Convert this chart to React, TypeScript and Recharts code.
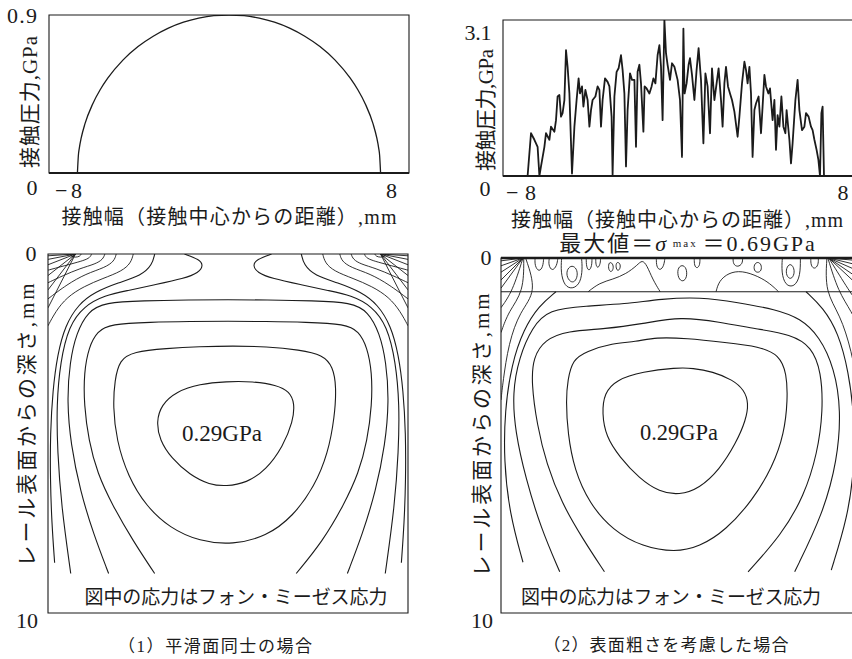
import React from 'react';
import { ComposedChart, Line, XAxis, YAxis, ReferenceArea, ReferenceLine } from 'recharts';

type XY = [number, number];
type Pt = { x: number; d: number };
const pts = (a: XY[]): Pt[] => a.map(([x, d]) => ({ x, d }));

// ---------- (top-left) Hertz contact pressure, GPa vs distance from contact centre, mm
const hertzX = [-8, -7.95, -7.9, -7.8, -7.6, -7.2, -6.8, -6.4, -5.6, -4.8, -4.0, -3.2, -2.4, -1.6, -0.8, 0, 0.8, 1.6, 2.4, 3.2, 4.0, 4.8, 5.6, 6.4, 6.8, 7.2, 7.6, 7.8, 7.9, 7.95, 8];
const hertzP = [0, 0.10, 0.142, 0.20, 0.281, 0.392, 0.474, 0.54, 0.643, 0.72, 0.779, 0.825, 0.859, 0.882, 0.896, 0.90, 0.896, 0.882, 0.859, 0.825, 0.779, 0.72, 0.643, 0.54, 0.474, 0.392, 0.281, 0.20, 0.142, 0.10, 0];
const hertz = hertzX.map((x, i) => ({ x, p: hertzP[i] }));
const smoothPressureTicksY = [0, 0.9];
const pressureTicksX = [-8, 8];

// ---------- (top-right) rough-surface contact pressure, GPa
const roughPressure: XY[] = [
  [-7.8, 0], [-7.77, 0], [-7.6, 0.85], [-7.43, 0.72], [-7.27, 0.58], [-7.18, 0], [-7.1, 0.19], [-6.93, 0.58], [-6.85, 0.85],
  [-6.68, 0.72], [-6.6, 0.98], [-6.43, 0.88], [-6.35, 1.11], [-6.27, 1.58], [-6.18, 1.61], [-6.1, 1.18], [-6.02, 1.25],
  [-5.93, 1.51], [-5.85, 2.5], [-5.77, 2.17], [-5.68, 1.64], [-5.55, 0.05], [-5.43, 0.98], [-5.32, 1.51], [-5.22, 1.94],
  [-5.15, 1.64], [-5.05, 1.78], [-4.98, 1.38], [-4.88, 1.71], [-4.77, 1.51], [-4.68, 0.98], [-4.6, 1.31], [-4.52, 1.51],
  [-4.38, 1.58], [-4.27, 1.78], [-4.18, 1.71], [-4.1, 0.98], [-4.02, 1.51], [-3.9, 1.94], [-3.77, 1.87], [-3.68, 1.78],
  [-3.57, 1.18], [-3.52, 0.02], [-3.43, 1.58], [-3.32, 2.07], [-3.22, 2.14], [-3.1, 2.4], [-3.02, 2.11], [-2.93, 1.64],
  [-2.85, 0.19], [-2.77, 1.31], [-2.65, 2.04], [-2.55, 1.91], [-2.43, 1.91], [-2.35, 0.58], [-2.27, 2.07], [-2.18, 2.21],
  [-2.1, 1.84], [-1.98, 0.88], [-1.92, 1.78], [-1.82, 1.74], [-1.68, 1.64], [-1.57, 1.78], [-1.48, 1.94], [-1.38, 1.84],
  [-1.27, 2.4], [-1.18, 2.6], [-1.1, 2.17], [-1.02, 1.11], [-0.93, 3.1], [-0.85, 2.44], [-0.77, 2.21], [-0.65, 1.91],
  [-0.55, 2.24], [-0.43, 2.17], [-0.27, 1.91], [-0.15, 1.51], [-0.05, 0.38], [0.02, 2.93], [0.08, 1.64], [0.18, 1.84],
  [0.28, 2.21], [0.35, 2.34], [0.45, 2.01], [0.57, 1.51], [0.68, 2.11], [0.78, 2.54], [0.9, 1.91], [1.02, 0.65],
  [1.12, 2.04], [1.23, 1.78], [1.35, 0.85], [1.45, 2.14], [1.57, 1.51], [1.68, 1.84], [1.78, 2.14], [1.9, 1.51],
  [1.98, 0.98], [2.07, 1.84], [2.15, 2.17], [2.25, 1.78], [2.35, 1.64], [2.45, 1.51], [2.57, 1.28], [2.73, 0.78],
  [2.82, 1.18], [2.95, 1.84], [3.07, 2.27], [3.15, 2.11], [3.23, 1.84], [3.32, 2.17], [3.4, 1.64], [3.48, 0.38],
  [3.57, 1.31], [3.65, 1.44], [3.78, 1.58], [3.9, 0.85], [3.98, 1.38], [4.07, 2.01], [4.15, 1.78], [4.27, 1.64],
  [4.35, 1.74], [4.48, 1.11], [4.57, 1.51], [4.65, 0.52], [4.73, 1.21], [4.82, 0.98], [4.92, 1.58], [5.02, 0.98],
  [5.12, 0.85], [5.18, 1.31], [5.32, 0.72], [5.4, 0.25], [5.48, 0.65], [5.62, 1.51], [5.73, 1.91], [5.82, 1.31],
  [5.95, 0.91], [6.07, 0.98], [6.15, 1.25], [6.28, 1.18], [6.4, 0.98], [6.48, 0.91], [6.57, 0.72], [6.68, 0.52],
  [6.77, 0.32], [6.85, 0], [6.92, 1.25], [6.98, 1.38], [7.05, 0],
];
const roughPressureData = roughPressure.map(([x, p]) => ({ x, p }));
const roughPressureTicksY = [0, 3.1];
const depthTicks = [0, 10];

// ---------- (bottom-left) von Mises contours, smooth surfaces (x mm, depth mm)
const smoothC1: XY[] = [[-0.09, 3.55], [-1.5, 3.62], [-2.73, 3.83], [-3.52, 4.2], [-3.78, 4.67], [-3.61, 5.18], [-2.99, 5.69], [-2.02, 6.15], [-0.97, 6.43], [-0.09, 6.47], [0.97, 6.38], [2.02, 6.01], [2.9, 5.36], [3.43, 4.67], [3.52, 4.16], [3.25, 3.83], [2.55, 3.65], [1.32, 3.55]];
const smoothC2: XY[] = [[-5.98, 3.51], [-5.72, 2.95], [-5.01, 2.72], [-3.25, 2.63], [-1.5, 2.58], [0.26, 2.56], [2.02, 2.58], [3.78, 2.67], [5.01, 2.81], [5.54, 3.14], [5.72, 3.69], [5.63, 4.53], [5.28, 5.55], [4.57, 6.47], [3.43, 7.31], [2.02, 7.87], [0.26, 8.1], [-1.5, 8.01], [-3.08, 7.63], [-4.31, 7.03], [-5.28, 6.2], [-5.89, 5.18], [-6.07, 4.25]];
const smoothC3: XY[] = [[-3.87, 8.9], [-5.0, 8.0], [-6.1, 7.0], [-6.9, 6.1], [-7.35, 5.2], [-7.6, 4.2], [-7.6, 3.3], [-7.35, 2.6], [-6.9, 2.15], [-6.2, 1.95], [-4.1, 1.9], [-2, 1.88], [0, 1.87], [2, 1.88], [4.1, 1.9], [6.2, 1.95], [6.9, 2.15], [7.35, 2.6], [7.6, 3.3], [7.6, 4.2], [7.35, 5.2], [6.9, 6.1], [6.1, 7.0], [5.0, 8.0], [3.6, 8.9]];
const smoothC4: XY[] = [[-6.3, 8.9], [-7.1, 7.8], [-7.8, 6.6], [-8.3, 5.3], [-8.5, 4.1], [-8.35, 3.0], [-8.0, 2.2], [-7.4, 1.6], [-6.5, 1.35], [-4.5, 1.3], [-2, 1.28], [0, 1.27], [2, 1.28], [4.5, 1.3], [6.5, 1.35], [7.4, 1.6], [8.0, 2.2], [8.35, 3.0], [8.5, 4.1], [8.3, 5.3], [7.8, 6.6], [7.1, 7.8], [6.3, 8.9]];
const smoothC5L: XY[] = [[-2.3, 0], [-1.5, 0.15], [-1.3, 0.32], [-1.55, 0.52], [-2.3, 0.68], [-3.9, 0.86], [-5.3, 1.02], [-6.5, 1.15], [-7.6, 1.45], [-8.4, 2.0], [-8.85, 3.0], [-9.05, 4.2], [-9.0, 5.5], [-8.8, 7.0], [-8.3, 8.9]];
const smoothC5R: XY[] = [[2.3, 0], [1.5, 0.15], [1.3, 0.32], [1.55, 0.52], [2.3, 0.68], [3.9, 0.86], [5.3, 1.02], [6.5, 1.15], [7.6, 1.45], [8.4, 2.0], [8.85, 3.0], [9.05, 4.2], [9.0, 5.5], [8.8, 7.0], [8.3, 8.9]];
const smoothC6L: XY[] = [[-3.87, 0], [-4.0, 0.3], [-4.57, 0.6], [-5.8, 0.8], [-7.0, 1.05], [-7.9, 1.4], [-8.6, 2.0], [-9.0, 2.8], [-9.25, 3.8], [-9.38, 5.0], [-9.38, 6.3], [-9.3, 7.5], [-9.15, 8.6]];
const smoothC6R: XY[] = [[3.87, 0], [4.0, 0.3], [4.57, 0.6], [5.8, 0.8], [7.0, 1.05], [7.9, 1.4], [8.6, 2.0], [9.0, 2.8], [9.25, 3.8], [9.38, 5.0], [9.38, 6.3], [9.3, 7.5], [9.15, 8.6]];
const smoothArcsL: XY[][] = [
  [[-5.0, 0], [-5.12, 0.25], [-5.6, 0.48], [-6.6, 0.68], [-7.6, 0.9], [-8.5, 1.2], [-9.1, 1.6], [-9.5, 2.0]],
  [[-5.9, 0], [-6.0, 0.2], [-6.5, 0.38], [-7.5, 0.55], [-8.5, 0.85], [-9.5, 1.25]],
  [[-6.5, 0], [-6.6, 0.15], [-7.0, 0.28], [-7.8, 0.4], [-8.7, 0.6], [-9.5, 0.8]],
  [[-7.2, 0], [-7.28, 0.1], [-7.6, 0.18], [-8.3, 0.28], [-9.0, 0.38], [-9.5, 0.45]],
  [[-7.75, 0], [-7.8, 0.06], [-8.05, 0.1], [-8.3, 0.06], [-8.35, 0]],
];
const smoothArcsR: XY[][] = [
  [[5.0, 0], [5.12, 0.25], [5.6, 0.48], [6.6, 0.68], [7.6, 0.9], [8.5, 1.2], [9.1, 1.6], [9.5, 2.0]],
  [[5.9, 0], [6.0, 0.2], [6.5, 0.38], [7.5, 0.55], [8.5, 0.85], [9.5, 1.25]],
  [[6.5, 0], [6.6, 0.15], [7.0, 0.28], [7.8, 0.4], [8.7, 0.6], [9.5, 0.8]],
  [[7.2, 0], [7.28, 0.1], [7.6, 0.18], [8.3, 0.28], [9.0, 0.38], [9.5, 0.45]],
  [[7.75, 0], [7.8, 0.06], [8.05, 0.1], [8.3, 0.06], [8.35, 0]],
];
const smoothEdgeL: XY = [-8.05, 0];
const smoothEdgeR: XY = [8.05, 0];
const smoothSpokeDepths = [0.05, 0.15, 0.3, 0.6, 1.0, 1.5];

// ---------- (bottom-right) von Mises contours, rough surfaces
const roughC1: XY[] = [[-0.26, 3.09], [-2.02, 3.2], [-3.43, 3.43], [-4.05, 3.81], [-4.17, 4.37], [-3.96, 5.03], [-3.25, 5.6], [-2.2, 6.21], [-1.14, 6.59], [-0.09, 6.68], [0.97, 6.49], [2.02, 5.97], [2.9, 5.22], [3.43, 4.56], [3.57, 4.09], [3.34, 3.72], [2.73, 3.43], [1.67, 3.2], [0.62, 3.1]];
const roughC2: XY[] = [[-5.98, 3.43], [-5.72, 2.87], [-5.01, 2.63], [-3.61, 2.4], [-2.4, 2.36], [-1.32, 2.23], [0.26, 2.26], [2.37, 2.38], [4.13, 2.49], [5.19, 2.73], [5.58, 3.25], [5.63, 4.0], [5.45, 4.94], [4.84, 5.88], [3.78, 6.82], [2.37, 7.67], [0.97, 8.14], [-0.32, 8.29], [-2.02, 8.14], [-3.61, 7.67], [-4.84, 6.91], [-5.63, 5.97], [-5.98, 4.94], [-6.07, 4.0]];
const roughC3: XY[] = [[-4.04, 8.84], [-5.2, 7.9], [-6.3, 6.9], [-7.1, 5.8], [-7.6, 4.7], [-7.9, 3.5], [-7.8, 2.8], [-7.2, 2.3], [-6.0, 2.05], [-4.0, 2.0], [-2.0, 1.85], [0, 1.65], [2.0, 1.8], [4.0, 2.0], [5.8, 2.15], [6.9, 2.5], [7.4, 3.2], [7.5, 4.3], [7.2, 5.5], [6.5, 6.7], [5.3, 7.8], [3.54, 8.84]];
const roughC4: XY[] = [[-6.4, 8.84], [-7.4, 7.6], [-8.2, 6.2], [-8.75, 4.9], [-8.9, 3.8], [-8.55, 2.8], [-7.85, 1.95], [-7.0, 1.45], [-5, 1.35], [-3, 1.3], [-1, 1.15], [1, 1.1], [3, 1.25], [5, 1.45], [6.3, 1.7], [7.3, 2.2], [8.1, 3.1], [8.45, 4.3], [8.25, 5.7], [7.5, 7.2], [6.0, 8.84]];
const roughC5L: XY[] = [[-6.6, 0.95], [-7.5, 1.35], [-8.3, 2.0], [-8.95, 3.0], [-9.3, 4.3], [-9.35, 5.7], [-9.05, 7.2], [-8.34, 8.57]];
const roughC5R: XY[] = [[6.6, 0.95], [7.5, 1.4], [8.3, 2.1], [8.85, 3.2], [9.15, 4.5], [9.15, 5.9], [8.8, 7.3], [7.93, 8.79]];
const roughWalls: XY[][] = [
  [[-8.34, 0], [-8.9, 0.95], [-9.5, 1.4]],
  [[-8.3, 0], [-8.3, 0.95], [-9.1, 1.5], [-9.5, 2.1]],
  [[-8.2, 0], [-7.6, 0.95], [-8.5, 1.5], [-9.1, 2.4], [-9.4, 3.5], [-9.5, 4.0]],
  [[7.8, 0], [8.9, 0.95], [9.5, 1.4]],
  [[7.75, 0], [8.3, 0.95], [9.0, 1.5], [9.5, 2.1]],
  [[7.7, 0], [7.6, 0.95], [8.4, 1.6], [9.0, 2.6], [9.4, 3.8], [9.5, 4.5]],
];
const roughEdgeL: XY = [-8.34, 0];
const roughEdgeR: XY = [7.8, 0];
const roughSpokeDepths = [0.08, 0.22, 0.4, 0.62, 0.85];
const roughLayerOpen: XY[][] = [
  [[-7.7, 0], [-7.72, 0.22], [-7.5, 0.4], [-7.28, 0.25], [-7.25, 0]],
  [[-6.95, 0], [-7.0, 0.2], [-6.8, 0.38], [-6.55, 0.22], [-6.5, 0]],
  [[-6.3, 0], [-6.35, 0.4], [-6.15, 0.8], [-5.7, 0.88], [-5.3, 0.7], [-5.2, 0.3], [-5.25, 0]],
  [[-5.0, 0], [-5.0, 0.25], [-4.85, 0.38], [-4.7, 0.22], [-4.7, 0]],
  [[-4.5, 0], [-4.5, 0.2], [-4.38, 0.3], [-4.25, 0.15], [-4.25, 0]],
  [[-4.9, 0.95], [-4.3, 0.7], [-3.6, 0.6], [-2.9, 0.45], [-2.3, 0.2], [-2.05, 0.05], [-1.8, 0.2], [-1.5, 0.6], [-1.1, 0.95]],
  [[-1.3, 0], [-1.3, 0.25], [-1.1, 0.36], [-0.9, 0.22], [-0.85, 0]],
  [[0.7, 0], [0.7, 0.22], [0.85, 0.3], [1.0, 0.2], [1.0, 0]],
  [[1.85, 0.95], [2.0, 0.65], [2.5, 0.42], [3.2, 0.35], [4.1, 0.52], [4.7, 0.72], [5.15, 0.95]],
  [[2.75, 0], [2.75, 0.18], [3.0, 0.26], [3.25, 0.16], [3.25, 0]],
  [[5.35, 0], [5.3, 0.4], [5.5, 0.78], [6.0, 0.82], [6.3, 0.5], [6.3, 0]],
  [[6.85, 0], [6.85, 0.22], [7.05, 0.32], [7.25, 0.2], [7.25, 0]],
];
const roughLayerLoops: XY[][] = [
  [[-5.75, 0.2], [-5.5, 0.3], [-5.45, 0.5], [-5.6, 0.68], [-5.85, 0.68], [-6.05, 0.5], [-6.0, 0.3]],
  [[-3.8, 0.1], [-3.6, 0.15], [-3.55, 0.3], [-3.7, 0.42], [-3.85, 0.3]],
  [[-3.4, 0.1], [-3.2, 0.15], [-3.2, 0.3], [-3.35, 0.38], [-3.45, 0.25]],
  [[0.05, 0.18], [0.3, 0.28], [0.32, 0.55], [0.1, 0.68], [-0.15, 0.58], [-0.2, 0.3]],
  [[4.05, 0.1], [4.25, 0.18], [4.25, 0.36], [4.05, 0.42], [3.85, 0.36], [3.85, 0.18]],
  [[5.75, 0.15], [5.95, 0.25], [6.0, 0.45], [5.8, 0.62], [5.55, 0.5], [5.55, 0.28]],
];
const roughLayerDepth = 0.95;

// ---------- styling
const FONT = "'Liberation Serif', 'Times New Roman', 'DejaVu Serif', 'Noto Sans CJK JP', serif";
const INK = '#1b1b1b';

function T({ x, y, size, w, rot, children, adj = 'spacing' }: any) {
  return (
    <text x={x} y={y} fontFamily={FONT} fill={INK} textAnchor="middle" dominantBaseline="central"
      style={{ fontFamily: FONT, fontSize: size }}
      textLength={w} lengthAdjust={w ? adj : undefined} transform={rot ? `rotate(-90 ${x} ${y})` : undefined}>
      {children}
    </text>
  );
}
const numLabel = (v: number) => String(v).replace('-', '\u2212');

const contour = (key: string, a: XY[], closed = false, w = 1.1) => (
  <Line key={key} data={pts(a)} dataKey="d" type={closed ? 'basisClosed' : 'basis'} stroke={INK} strokeWidth={w}
    dot={false} activeDot={false} isAnimationActive={false} legendType="none" />
);
const straight = (key: string, a: XY[], w = 0.9) => (
  <Line key={key} data={pts(a)} dataKey="d" type="linear" stroke={INK} strokeWidth={w}
    dot={false} activeDot={false} isAnimationActive={false} legendType="none" />
);

function Overlay({ w, h, children }: any) {
  return (
    <svg width={w} height={h} style={{ position: 'absolute', left: 0, top: 0, pointerEvents: 'none', overflow: 'visible' }}>
      {children}
    </svg>
  );
}

// ---------- panels
function TopLeft() {
  return (
    <div style={{ position: 'absolute', left: 0, top: 0, width: 426, height: 235 }}>
      <ComposedChart width={426} height={235} margin={{ top: 15, left: 48, right: 17, bottom: 61 }}>
        <XAxis type="number" dataKey="x" domain={[-9.5, 9.5]} allowDataOverflow ticks={pressureTicksX} interval={0}
          height={1} axisLine={false} tickLine={false}
          tick={(p: any) => (
            <T x={p.x + (p.payload.value < 0 ? -9 : 11)} y={190} size={22} w={p.payload.value < 0 ? 27 : undefined}>{numLabel(p.payload.value)}</T>
          )} />
        <YAxis type="number" domain={[0, 0.9]} allowDataOverflow ticks={smoothPressureTicksY} interval={0} width={1}
          axisLine={false} tickLine={false}
          tick={(p: any) => (
            <T x={p.payload.value > 0 ? 22 : 32} y={p.y + (p.payload.value > 0 ? 0 : 14)} size={22} w={p.payload.value > 0 ? 30 : undefined}>{String(p.payload.value)}</T>
          )} />
        <ReferenceArea x1={-9.5} x2={9.5} y1={0} y2={0.9} fill="none" stroke={INK} strokeWidth={1.1} ifOverflow="visible" />
        <ReferenceLine y={0} stroke={INK} strokeWidth={2} ifOverflow="visible" />
        <Line data={hertz} dataKey="p" type="monotone" stroke={INK} strokeWidth={1.3} dot={false} activeDot={false} isAnimationActive={false} />
      </ComposedChart>
      <Overlay w={426} h={235}>
        <T x={30} y={102} size={21} w={132} rot>接触圧力,GPa</T>
        <T x={229} y={217} size={20} w={335}>接触幅（接触中心からの距離）,mm</T>
      </Overlay>
    </div>
  );
}

function TopRight() {
  return (
    <div style={{ position: 'absolute', left: 426, top: 0, width: 445, height: 235 }}>
      <ComposedChart width={445} height={235} margin={{ top: 20, left: 76, right: 8, bottom: 58 }}>
        <XAxis type="number" dataKey="x" domain={[-9, 9]} allowDataOverflow ticks={pressureTicksX} interval={0}
          height={1} axisLine={false} tickLine={false}
          tick={(p: any) => (
            <T x={p.x + (p.payload.value < 0 ? -2 : 0)} y={192} size={22} w={p.payload.value < 0 ? 30 : undefined}>{numLabel(p.payload.value)}</T>
          )} />
        <YAxis type="number" domain={[0, 3.1]} allowDataOverflow ticks={roughPressureTicksY} interval={0} width={1}
          axisLine={false} tickLine={false}
          tick={(p: any) => (
            <T x={p.payload.value > 0 ? 52 : 59} y={p.y + 12} size={22} w={p.payload.value > 0 ? 27 : undefined}>{String(p.payload.value)}</T>
          )} />
        <ReferenceArea x1={-9} x2={9} y1={0} y2={3.1} fill="none" stroke={INK} strokeWidth={1.1} ifOverflow="visible" />
        <ReferenceLine y={0} stroke={INK} strokeWidth={2} ifOverflow="visible" />
        <Line data={roughPressureData} dataKey="p" type="linear" stroke={INK} strokeWidth={1.8} strokeLinejoin="round" dot={false} activeDot={false} isAnimationActive={false} />
      </ComposedChart>
      <Overlay w={445} h={235}>
        <T x={60} y={110} size={21} w={122} rot>接触圧力,GPa</T>
        <T x={251} y={220} size={20} w={332}>接触幅（接触中心からの距離）,mm</T>
      </Overlay>
    </div>
  );
}

function BottomLeft() {
  const spokesL = smoothSpokeDepths.map((s, i) => straight('sl' + i, [smoothEdgeL, [-9.5, s]]));
  const spokesR = smoothSpokeDepths.map((s, i) => straight('sr' + i, [smoothEdgeR, [9.5, s]]));
  return (
    <div style={{ position: 'absolute', left: 0, top: 225, width: 426, height: 434 }}>
      <ComposedChart width={426} height={434} margin={{ top: 29, left: 47, right: 18, bottom: 46 }}>
        <XAxis type="number" dataKey="x" domain={[-9.5, 9.5]} allowDataOverflow hide />
        <YAxis type="number" domain={[0, 10]} reversed allowDataOverflow ticks={depthTicks} interval={0} width={1}
          axisLine={false} tickLine={false}
          tick={(p: any) => (
            <T x={p.payload.value > 0 ? 27 : 31} y={p.y + (p.payload.value > 0 ? 7 : -1)} size={22}>{String(p.payload.value)}</T>
          )} />
        <ReferenceArea x1={-9.5} x2={9.5} y1={0} y2={10} fill="none" stroke={INK} strokeWidth={1.1} ifOverflow="visible" />
        {contour('c1', smoothC1, true)}
        {contour('c2', smoothC2, true)}
        {contour('c3', smoothC3)}
        {contour('c4', smoothC4)}
        {contour('c5l', smoothC5L)}
        {contour('c5r', smoothC5R)}
        {contour('c6l', smoothC6L)}
        {contour('c6r', smoothC6R)}
        {smoothArcsL.map((a, i) => contour('al' + i, a, false, 0.9))}
        {smoothArcsR.map((a, i) => contour('ar' + i, a, false, 0.9))}
        {spokesL}
        {spokesR}
      </ComposedChart>
      <Overlay w={426} h={434}>
        <T x={27} y={200} size={21} w={283} rot>レール表面からの深さ,mm</T>
        <T x={222} y={208} size={23} w={80} adj="spacingAndGlyphs">0.29GPa</T>
        <T x={236} y={372} size={19} w={303}>図中の応力はフォン・ミーゼス応力</T>
        <T x={215} y={421} size={17} w={194}>（1）平滑面同士の場合</T>
      </Overlay>
    </div>
  );
}

function BottomRight() {
  const spokesL = roughSpokeDepths.map((s, i) => straight('rsl' + i, [roughEdgeL, [-9.5, s]]));
  const spokesR = roughSpokeDepths.map((s, i) => straight('rsr' + i, [roughEdgeR, [9.5, s]]));
  return (
    <div style={{ position: 'absolute', left: 426, top: 225, width: 445, height: 434 }}>
      <ComposedChart width={445} height={434} margin={{ top: 33, left: 74, right: 10, bottom: 46 }}>
        <XAxis type="number" dataKey="x" domain={[-9.5, 9.5]} allowDataOverflow hide />
        <YAxis type="number" domain={[0, 10]} reversed allowDataOverflow ticks={depthTicks} interval={0} width={1}
          axisLine={false} tickLine={false}
          tick={(p: any) => (
            <T x={p.payload.value > 0 ? 56 : 60} y={p.y + (p.payload.value > 0 ? 7 : -1)} size={22}>{String(p.payload.value)}</T>
          )} />
        <ReferenceArea x1={-9.5} x2={9.5} y1={0} y2={10} fill="none" stroke={INK} strokeWidth={1.1} ifOverflow="visible" />
        <ReferenceLine y={0} stroke={INK} strokeWidth={2.5} ifOverflow="visible" />
        <ReferenceLine y={roughLayerDepth} stroke={INK} strokeWidth={1.2} ifOverflow="visible" />
        {contour('c1', roughC1, true)}
        {contour('c2', roughC2, true)}
        {contour('c3', roughC3)}
        {contour('c4', roughC4)}
        {contour('c5l', roughC5L)}
        {contour('c5r', roughC5R)}
        {roughWalls.map((a, i) => contour('w' + i, a, false, 0.9))}
        {roughLayerOpen.map((a, i) => contour('lo' + i, a, false, 0.9))}
        {roughLayerLoops.map((a, i) => contour('ll' + i, a, true, 0.9))}
        {spokesL}
        {spokesR}
      </ComposedChart>
      <Overlay w={445} h={434}>
        <text x={262} y={18} fill={INK} textAnchor="middle" dominantBaseline="central"
          style={{ fontFamily: FONT, fontSize: 22, letterSpacing: 2 }}>
          最大値＝<tspan fontStyle="italic">σ</tspan><tspan style={{ fontSize: 11 }}> max </tspan>＝0.69GPa
        </text>
        <T x={56} y={210} size={21} w={283} rot>レール表面からの深さ,mm</T>
        <T x={253} y={207} size={23} w={78} adj="spacingAndGlyphs">0.29GPa</T>
        <T x={245} y={372} size={19} w={300}>図中の応力はフォン・ミーゼス応力</T>
        <T x={240} y={420} size={17} w={245}>（2）表面粗さを考慮した場合</T>
      </Overlay>
    </div>
  );
}

export default function App() {
  return (
    <div style={{ position: 'fixed', left: 0, top: 0, width: 852, height: 659, overflow: 'hidden', background: '#fff' }}>
      <TopLeft />
      <TopRight />
      <BottomLeft />
      <BottomRight />
    </div>
  );
}
